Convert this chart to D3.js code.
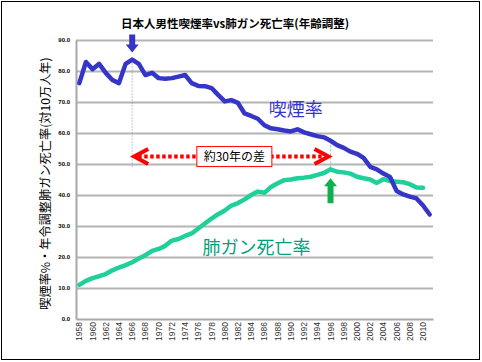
<!DOCTYPE html>
<html>
<head>
<meta charset="utf-8">
<script src="https://cdn.jsdelivr.net/npm/d3@7"></script>
<style>
body { margin: 0; background: #fff; }
text { font-family: "Noto Sans CJK JP", "Liberation Sans", sans-serif; }
</style>
</head>
<body>
<script>
// years 1958-2011
var years = d3.range(1958, 2012);
var yearLabels = d3.range(1958, 2011, 2);
var yTicks = [0, 10, 20, 30, 40, 50, 60, 70, 80, 90];

// 喫煙率 (male smoking rate, %), 1958-2011
var smoking = [76.1, 82.9, 80.6, 82.3, 79.4, 77.1, 76.1, 82.3, 83.7, 82.3,
               78.7, 79.4, 77.7, 77.5, 77.7, 78.2, 78.7, 76.1, 75.2, 75.1,
               74.5, 72.3, 70.2, 70.6, 69.7, 66.3, 65.5, 64.6, 62.5, 61.5,
               61.2, 60.8, 60.5, 61.2, 60.2, 59.6, 59.0, 58.6, 57.5, 56.1,
               55.2, 54.0, 53.3, 52.0, 49.1, 48.3, 46.9, 45.8, 41.3, 40.2,
               39.5, 38.9, 36.6, 33.7];

// 肺ガン死亡率 (age adjusted, per 100k), 1958-2010
var lungCancer = [11.0, 12.3, 13.2, 13.8, 14.5, 15.7, 16.6, 17.4, 18.3, 19.5,
                  20.6, 22.0, 22.6, 23.6, 25.3, 25.8, 26.8, 27.6, 29.2, 30.8,
                  32.4, 33.8, 35.0, 36.6, 37.4, 38.6, 40.0, 41.1, 40.7, 42.6,
                  43.8, 44.8, 45.0, 45.4, 45.6, 45.9, 46.5, 47.1, 48.3, 47.5,
                  47.3, 46.9, 45.9, 45.4, 45.0, 43.9, 45.1, 44.5, 44.3, 44.1,
                  43.5, 42.4, 42.3];

var smokePeak = 1966, cancerPeak = 1996;

var W = 482, H = 362;
var plot = {left: 76, right: 433, top: 40, bottom: 319};

var svg = d3.select("body").append("svg").attr("width", W).attr("height", H);

// outer frame
svg.append("rect").attr("x", 1.5).attr("y", 1.5).attr("width", W - 4).attr("height", H - 4)
  .style("fill", "none").style("stroke", "#000").style("stroke-width", 1);

var x = d3.scaleBand().domain(years).range([plot.left, plot.right]).padding(0);
var y = d3.scaleLinear().domain([0, 90]).range([plot.bottom, plot.top]);
var cx = function(yr) { return x(yr) + x.bandwidth() / 2; };

// grid
svg.append("g").attr("class", "grid")
  .attr("transform", "translate(" + plot.left + ",0)")
  .call(d3.axisLeft(y).tickValues(yTicks.slice(1)).tickSize(-(plot.right - plot.left)).tickFormat(""))
  .call(function(g) { g.select(".domain").remove(); })
  .selectAll("line").style("stroke", "#b4b4b4").style("stroke-width", 2);

// y axis
var yAxis = svg.append("g")
  .attr("transform", "translate(" + plot.left + ",0)")
  .call(d3.axisLeft(y).tickValues(yTicks).tickSize(0).tickPadding(6).tickFormat(d3.format(".1f")));
yAxis.select(".domain").style("stroke", "#a8a8a8").style("stroke-width", 2);
yAxis.selectAll("text").style("font-size", "6px").style("font-weight", "bold")
  .style("font-family", "Liberation Sans, Arial, sans-serif").style("fill", "#000");

// x axis
var xAxis = svg.append("g")
  .attr("transform", "translate(0," + plot.bottom + ")")
  .call(d3.axisBottom(x).tickValues(yearLabels).tickSize(0));
xAxis.select(".domain").style("stroke", "#a8a8a8").style("stroke-width", 2);
xAxis.selectAll("text")
  .attr("transform", "rotate(-90)")
  .attr("x", -3).attr("y", 0).attr("dy", "0.35em")
  .style("text-anchor", "end")
  .style("font-size", "8.5px")
  .style("font-family", "Liberation Sans, Arial, sans-serif")
  .style("fill", "#333");

// y title
svg.append("text")
  .attr("transform", "translate(50," + ((plot.top + plot.bottom) / 2 + 4) + ") rotate(-90)")
  .style("text-anchor", "middle").style("font-size", "12.2px").style("fill", "#000")
  .text("喫煙率%・年令調整肺ガン死亡率(対10万人年)");

// title
svg.append("text").attr("x", 235).attr("y", 28)
  .style("text-anchor", "middle").style("font-size", "11.5px").style("font-weight", "bold")
  .text("日本人男性喫煙率vs肺ガン死亡率(年齢調整)");

// guide lines at peaks
svg.append("line")
  .attr("x1", cx(smokePeak)).attr("x2", cx(smokePeak))
  .attr("y1", y(smoking[years.indexOf(smokePeak)]) + 4).attr("y2", y(50) + 3)
  .style("stroke", "#8a8ae0").style("stroke-width", 1).style("stroke-dasharray", "1,2");
svg.append("line")
  .attr("x1", cx(cancerPeak)).attr("x2", cx(cancerPeak))
  .attr("y1", y(56)).attr("y2", y(lungCancer[years.indexOf(cancerPeak)]))
  .style("stroke", "#6edcaa").style("stroke-width", 1).style("stroke-dasharray", "2,2");

// lines
var line = d3.line().x(function(d) { return cx(d[0]); }).y(function(d) { return y(d[1]); });
svg.append("path")
  .datum(lungCancer.map(function(v, i) { return [years[i], v]; }))
  .attr("d", line)
  .style("fill", "none").style("stroke", "#1fd09a").style("stroke-width", 4.5)
  .style("stroke-linejoin", "round").style("stroke-linecap", "round");
svg.append("path")
  .datum(smoking.map(function(v, i) { return [years[i], v]; }))
  .attr("d", line)
  .style("fill", "none").style("stroke", "#3535c8").style("stroke-width", 4.5)
  .style("stroke-linejoin", "round").style("stroke-linecap", "round");

// blue down arrow above smoking peak
var bx = cx(smokePeak), btip = y(smoking[years.indexOf(smokePeak)]) - 7;
svg.append("path")
  .attr("d", "M" + (bx - 3) + "," + (btip - 18) + "H" + (bx + 3) + "V" + (btip - 8) +
        "H" + (bx + 6.5) + "L" + bx + "," + btip + "L" + (bx - 6.5) + "," + (btip - 8) +
        "H" + (bx - 3) + "Z")
  .style("fill", "#3535c8");

// green up arrow under cancer peak
var gx = cx(cancerPeak), gtip = y(lungCancer[years.indexOf(cancerPeak)]) + 9;
svg.append("path")
  .attr("d", "M" + (gx - 3) + "," + (gtip + 25) + "H" + (gx + 3) + "V" + (gtip + 8) +
        "H" + (gx + 6.5) + "L" + gx + "," + gtip + "L" + (gx - 6.5) + "," + (gtip + 8) +
        "H" + (gx - 3) + "Z")
  .style("fill", "#10b050");

// red dotted double arrow
var ay = y(52.4);
var ax1 = cx(smokePeak), ax2 = cx(cancerPeak);
svg.append("line")
  .attr("x1", ax1 + 6).attr("x2", ax2 - 6).attr("y1", ay).attr("y2", ay)
  .style("stroke", "#ff0000").style("stroke-width", 4).style("stroke-dasharray", "3.5,2.5");
[[ax1, 1], [ax2, -1]].forEach(function(a) {
  svg.append("path")
    .attr("d", "M" + (a[0] + a[1] * 16) + "," + (ay - 7.5) + "L" + (a[0] + a[1] * 2) + "," + ay +
          "L" + (a[0] + a[1] * 16) + "," + (ay + 7.5))
    .style("fill", "none").style("stroke", "#ff0000").style("stroke-width", 4)
    .style("stroke-linejoin", "miter");
});

// label box
var boxW = 75, boxH = 20, boxX = (ax1 + ax2) / 2 - boxW / 2 + 3;
svg.append("rect").attr("x", boxX).attr("y", ay - 10).attr("width", boxW).attr("height", boxH)
  .style("fill", "#fff").style("stroke", "#ff0000").style("stroke-width", 1);
svg.append("text").attr("x", boxX + boxW / 2).attr("y", ay + 4.5)
  .style("text-anchor", "middle").style("font-size", "12px").style("fill", "#000")
  .text("約30年の差");

// series labels
svg.append("text").attr("x", x(1987) + 1).attr("y", y(65.5))
  .style("font-size", "18px").style("fill", "#3535c8").text("喫煙率");
svg.append("text").attr("x", x(1977) + 1).attr("y", y(21))
  .style("font-size", "18px").style("fill", "#00a07a").text("肺ガン死亡率");
</script>
</body>
</html>
